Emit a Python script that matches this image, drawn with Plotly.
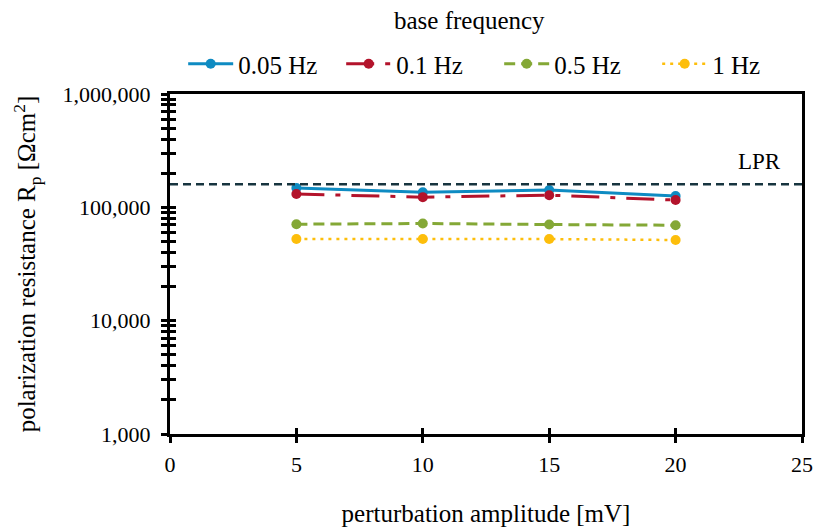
import plotly.graph_objects as go
import math

amplitude = [5, 10, 15, 20]
rp_005 = [148000, 136000, 142000, 126000]
rp_01 = [131000, 123000, 128000, 116000]
rp_05 = [71000, 72000, 70500, 69500]
rp_1 = [52500, 52500, 52500, 51500]
lpr_value = 160000
series_names = ["0.05 Hz", "0.1 Hz", "0.5 Hz", "1 Hz"]

FONT = "Liberation Serif"
colors = ["#0E8BC2", "#B3132B", "#84A836", "#FDBE0B"]
dashes = ["solid", "28px,11px,5px,11px", "11px,6px", "3px,5px"]
widths = [3, 3, 3, 2.5]

fig = go.Figure()
for name, vals, c, d, w in zip(series_names, [rp_005, rp_01, rp_05, rp_1], colors, dashes, widths):
    fig.add_trace(go.Scatter(
        x=amplitude, y=vals, name=name, mode="lines+markers",
        line=dict(color=c, dash=d, width=w),
        marker=dict(color=c, size=10, symbol="circle"),
    ))

# LPR reference line across full axis width
fig.add_trace(go.Scatter(
    x=[0, 25], y=[lpr_value, lpr_value], mode="lines", showlegend=False,
    line=dict(color="#17343F", dash="8px,5px", width=2.4), hoverinfo="skip",
))
# dummy trace for overlay axes (crossing ticks)
fig.add_trace(go.Scatter(x=[0], y=[1000], xaxis="x2", yaxis="y2", mode="markers",
                         marker=dict(opacity=0), showlegend=False, hoverinfo="skip"))

fig.add_annotation(x=23.3, y=math.log10(lpr_value), xref="x", yref="y", text="LPR",
                   showarrow=False, yshift=23, font=dict(family=FONT, size=23, color="black"))
fig.add_annotation(x=0.474, y=1.2176, xref="paper", yref="paper", text="base frequency",
                   showarrow=False, xanchor="center", yanchor="middle",
                   font=dict(family=FONT, size=25, color="black"))

ax_common = dict(showgrid=False, zeroline=False, linecolor="black", linewidth=3, automargin=False)
fig.update_layout(
    width=813, height=527,
    margin=dict(l=170, r=11, t=94, b=93, autoexpand=False),
    paper_bgcolor="white", plot_bgcolor="white",
    font=dict(family=FONT, size=22, color="black"),
    xaxis=dict(range=[0, 25], dtick=5, ticks="outside", ticklen=6, tickwidth=3, tickcolor="black",
               mirror=True, ticklabelstandoff=3, tickfont=dict(size=22), ticklabeloverflow="allow",
               title=dict(text="perturbation amplitude [mV]", standoff=33, font=dict(size=25)),
               **ax_common),
    yaxis=dict(type="log", range=[3, 6], dtick=1, ticks="outside", ticklen=6, tickwidth=3,
               tickcolor="black", tickformat=",d", mirror=True, ticklabelstandoff=6,
               tickfont=dict(size=22),
               minor=dict(ticks="outside", ticklen=6, tickwidth=3, tickcolor="black", dtick="D1", showgrid=False),
               title=dict(text="polarization resistance R<sub>p</sub> [Ωcm<sup>2</sup>]", standoff=20, font=dict(size=25)),
               **ax_common),
    xaxis2=dict(range=[0, 25], dtick=5, ticks="inside", ticklen=6, tickwidth=3, tickcolor="black",
                overlaying="x", anchor="y2", side="bottom", showticklabels=False,
                showgrid=False, zeroline=False, showline=False),
    yaxis2=dict(type="log", range=[3, 6], dtick=1, ticks="inside", ticklen=6, tickwidth=3,
                tickcolor="black", overlaying="y", anchor="x2", side="left", showticklabels=False,
                minor=dict(ticks="inside", ticklen=6, tickwidth=3, tickcolor="black", dtick="D1", showgrid=False),
                showgrid=False, zeroline=False, showline=False),
    legend=dict(orientation="h", xref="container", x=0.614, xanchor="center",
                yref="container", y=1 - 64 / 527, yanchor="middle",
                font=dict(size=25), itemwidth=45, entrywidth=98, traceorder="normal",
                bgcolor="rgba(0,0,0,0)"),
    showlegend=True,
)

fig.write_html("out.html", config={"displayModeBar": False},
               post_script="document.body.style.margin='0px';")
